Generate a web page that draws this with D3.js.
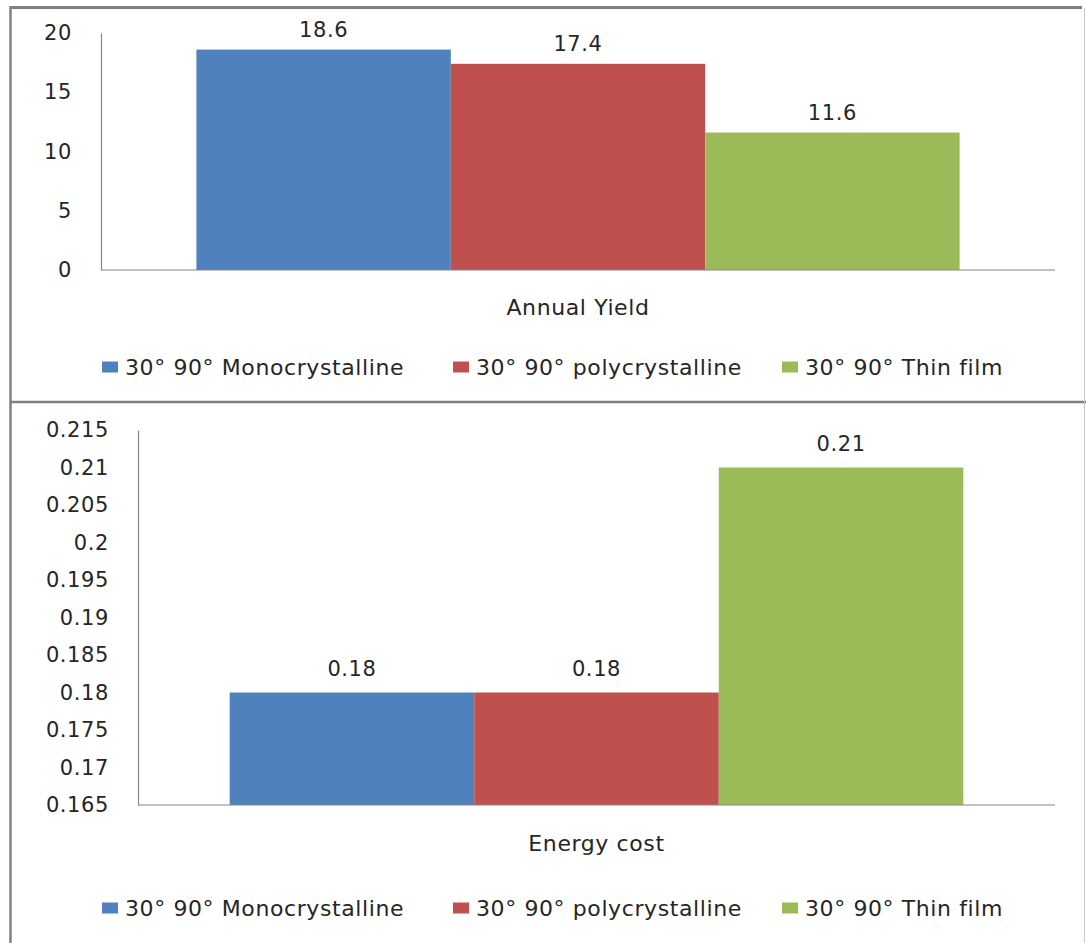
<!DOCTYPE html>
<html>
<head>
<meta charset="utf-8">
<script src="https://cdn.jsdelivr.net/npm/d3@7"></script>
<style>
  body { margin: 0; background: #fff; }
  text { font-family: "DejaVu Sans", sans-serif; fill: #262626; letter-spacing: 0.6px; }
</style>
</head>
<body>
<div id="chart"></div>
<script>
// Data
const seriesNames = ["30° 90° Monocrystalline", "30° 90° polycrystalline", "30° 90° Thin film"];
const seriesColors = ["#4f81bd", "#c0504d", "#9bbb59"];

const yieldCategory = "Annual Yield";
const yieldValues = [18.6, 17.4, 11.6];
const yieldTicks = [0, 5, 10, 15, 20];

const costCategory = "Energy cost";
const costValues = [0.18, 0.18, 0.21];
const costTicks = [0.165, 0.17, 0.175, 0.18, 0.185, 0.19, 0.195, 0.2, 0.205, 0.21, 0.215];

const width = 1086, height = 943;
const svg = d3.select("#chart").append("svg")
  .attr("width", width)
  .attr("height", height);

// Frame
svg.append("line").attr("x1", 10).attr("x2", 1082).attr("y1", 7.5).attr("y2", 7.5)
  .attr("stroke", "#808080").attr("stroke-width", 3);
svg.append("line").attr("x1", 10.5).attr("x2", 10.5).attr("y1", 6).attr("y2", height)
  .attr("stroke", "#808080").attr("stroke-width", 2.5);
svg.append("line").attr("x1", 10).attr("x2", width).attr("y1", 402).attr("y2", 402)
  .attr("stroke", "#808080").attr("stroke-width", 2.5);
svg.append("line").attr("x1", 1084.5).attr("x2", 1084.5).attr("y1", 8).attr("y2", height)
  .attr("stroke", "#c8c8c8").attr("stroke-width", 1);

const drawPanel = (cfg) => {
  const g = svg.append("g");
  const x = d3.scaleBand()
    .domain(seriesNames)
    .range([cfg.left + (cfg.right - cfg.left) * 0.1, cfg.right - (cfg.right - cfg.left) * 0.1]);
  const y = d3.scaleLinear()
    .domain(cfg.domain)
    .range([cfg.bottom, cfg.top]);

  // y axis
  const yAxis = g.append("g")
    .attr("transform", `translate(${cfg.left},0)`)
    .call(d3.axisLeft(y).tickValues(cfg.ticks).tickSize(0).tickPadding(29).tickFormat(d3.format("")));
  yAxis.select(".domain").attr("stroke", "#868686").attr("stroke-width", 1.2);
  yAxis.selectAll("text")
    .style("font-size", "21px")
    .style("font-family", "DejaVu Sans, sans-serif")
    .attr("fill", "#262626");

  // bars
  g.selectAll("rect.bar")
    .data(cfg.values)
    .join("rect")
    .attr("class", "bar")
    .attr("x", (d, i) => x(seriesNames[i]))
    .attr("width", x.bandwidth())
    .attr("y", d => y(d))
    .attr("height", d => cfg.bottom - y(d))
    .attr("fill", (d, i) => seriesColors[i]);

  // x axis line
  g.append("line")
    .attr("x1", cfg.left).attr("x2", cfg.right)
    .attr("y1", cfg.bottom).attr("y2", cfg.bottom)
    .attr("stroke", "#868686").attr("stroke-width", 1.2);

  // value labels
  g.selectAll("text.val")
    .data(cfg.values)
    .join("text")
    .attr("class", "val")
    .attr("x", (d, i) => x(seriesNames[i]) + x.bandwidth() / 2)
    .attr("y", d => y(d) - cfg.labelGap)
    .attr("text-anchor", "middle")
    .style("font-size", "21px")
    .text(d => d);

  // category label
  g.append("text")
    .attr("x", (cfg.left + cfg.right) / 2)
    .attr("y", cfg.catY)
    .attr("text-anchor", "middle")
    .style("font-size", "22px")
    .text(cfg.category);

  // legend
  const legendX = [102, 453, 782];
  const leg = g.selectAll("g.leg")
    .data(seriesNames)
    .join("g")
    .attr("class", "leg")
    .attr("transform", (d, i) => `translate(${legendX[i]},${cfg.legendY})`);
  leg.append("rect")
    .attr("x", 0).attr("y", -5.5)
    .attr("width", 16).attr("height", 11)
    .attr("fill", (d, i) => seriesColors[i]);
  leg.append("text")
    .attr("x", 23)
    .attr("y", 8)
    .style("font-size", "22px")
    .text(d => d);
};

drawPanel({
  left: 101, right: 1055, top: 33, bottom: 270,
  domain: [0, 20], ticks: yieldTicks, values: yieldValues,
  category: yieldCategory, catY: 315, legendY: 367, labelGap: 13
});

drawPanel({
  left: 138, right: 1055, top: 430, bottom: 805,
  domain: [0.165, 0.215], ticks: costTicks, values: costValues,
  category: costCategory, catY: 851, legendY: 908, labelGap: 17
});
</script>
</body>
</html>
